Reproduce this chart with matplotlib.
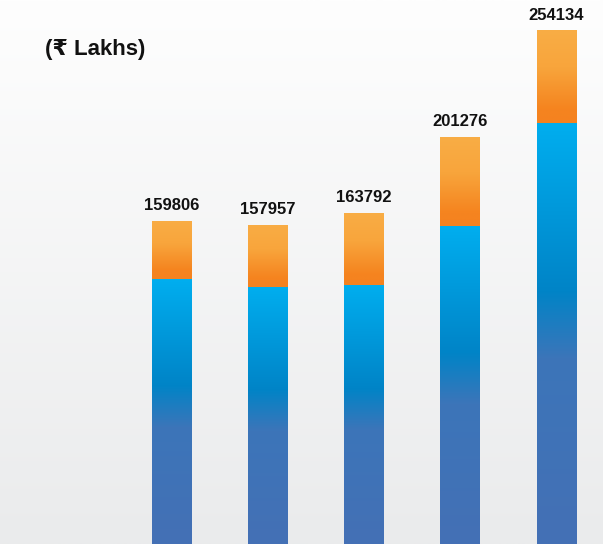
import numpy as np
import matplotlib
matplotlib.use("Agg")
import matplotlib.pyplot as plt
from matplotlib.colors import LinearSegmentedColormap

# Totals in lakhs, split into the two stacked components.
totals = [159806, 157957, 163792, 201276, 254134]
lower = [131000, 127100, 128100, 157300, 208200]
upper = [t - l for t, l in zip(totals, lower)]

unit_label = "(\u20b9 Lakhs)"

blue_cmap = LinearSegmentedColormap.from_list(
    "blue", [(0.0, "#00aeef"), (0.40, "#0084c7"), (0.56, "#3c75b9"), (1.0, "#4470b5")])
orange_cmap = LinearSegmentedColormap.from_list(
    "orange", [(0.0, "#f9ad45"), (0.40, "#f8a53c"), (0.85, "#f5841f"), (1.0, "#f58220")])
bg_cmap = LinearSegmentedColormap.from_list("bg", ["#fefefe", "#eaebec"])

fig = plt.figure(figsize=(6.03, 5.44), dpi=100)
ax = fig.add_axes([0, 0, 1, 1])
ax.axis("off")

# background fades from white at the top to light grey at the bottom
ramp = np.linspace(0, 1, 256).reshape(-1, 1)
ax.imshow(ramp, cmap=bg_cmap, aspect="auto", extent=[-1.782, 4.483, 0, 269000],
          origin="upper", zorder=0)

x = np.arange(len(totals))
width = 0.415


def gradient_fill(bars, cmap):
    for bar in bars:
        x0, y0 = bar.get_x(), bar.get_y()
        w, h = bar.get_width(), bar.get_height()
        bar.set_facecolor("none")
        im = ax.imshow(ramp, cmap=cmap, aspect="auto", origin="upper",
                       extent=[x0, x0 + w, y0, y0 + h], zorder=2)
        im.set_clip_path(bar)


bars_low = ax.bar(x, lower, width, linewidth=0, zorder=2)
bars_up = ax.bar(x, upper, width, bottom=lower, linewidth=0, zorder=2)
gradient_fill(bars_low, blue_cmap)
gradient_fill(bars_up, orange_cmap)
ax.set_xlim(-1.782, 4.483)
ax.set_ylim(0, 269000)

for xi, t in zip(x, totals):
    ax.text(xi, t + 3700, str(t), ha="center", va="bottom", fontsize=12,
            fontweight="bold", family=["Liberation Sans", "DejaVu Sans"], color="#111111")

fig.text(45 / 603, 1 - 49 / 544, unit_label, ha="left", va="center", fontsize=16,
         fontweight="bold", family=["Liberation Sans", "DejaVu Sans"], color="#111111")

fig.savefig("out.png", dpi=100)
